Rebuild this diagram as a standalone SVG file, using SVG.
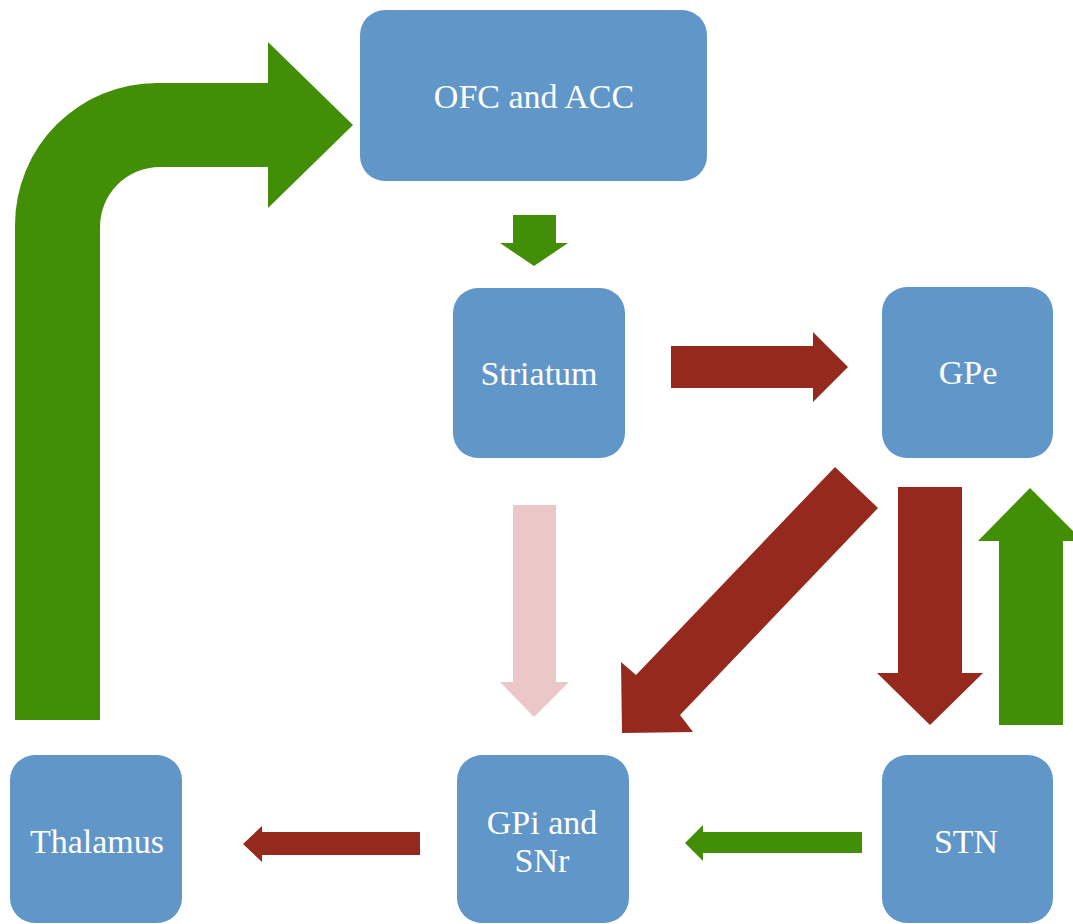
<svg xmlns="http://www.w3.org/2000/svg" width="1073" height="924" viewBox="0 0 1073 924">
<style>
.box{fill:#6196C9;}
.lbl{fill:#ffffff;font-family:'Liberation Serif',serif;font-size:34px;text-anchor:middle;}
.g{fill:#438E07;}
.r{fill:#95291D;}
.p{fill:#ECC7C7;}
</style>
<rect width="1073" height="924" fill="#ffffff"/>
<g id="connectors">
<path class="g" d="M 15 720 L 15 225 A 142 142 0 0 1 157 83 L 268 83 L 268 42 L 353 125 L 268 208 L 268 167 L 160 167 A 60 60 0 0 0 100 227 L 100 720 Z"/>
<polygon class="g" points="513,215 556,215 556,243 568,243 534,266 500,243 513,243"/>
<polygon class="r" points="671,346 813,346 813,332 848,367 813,402 813,388 671,388"/>
<polygon class="p" points="513,505 556,505 556,682 569,682 534,717 500,682 513,682"/>
<polygon class="r" points="835,467 878,508 680,715 693,732 622,733 621,662 636,675"/>
<polygon class="r" points="898,487 962,487 962,673 983,673 930,725 877,673 898,673"/>
<polygon class="g" points="999,725 1063,725 1063,541 1083,541 1030,488 978,541 999,541"/>
<polygon class="r" points="420,832 262,832 262,826 243,844 262,862 262,855 420,855"/>
<polygon class="g" points="862,832 703,832 703,825 685,843 703,861 703,853 862,853"/>
</g>
<g id="ofc">
<rect class="box" x="360" y="10" width="347" height="171" rx="25"/>
<text class="lbl" x="534" y="108">OFC and ACC</text>
</g>
<g id="striatum">
<rect class="box" x="453" y="288" width="172" height="170" rx="25"/>
<text class="lbl" x="539" y="385">Striatum</text>
</g>
<g id="gpe">
<rect class="box" x="882" y="287" width="171" height="171" rx="25"/>
<text class="lbl" x="968" y="384">GPe</text>
</g>
<g id="thalamus">
<rect class="box" x="10" y="755" width="172" height="168" rx="25"/>
<text class="lbl" x="97" y="853">Thalamus</text>
</g>
<g id="gpi">
<rect class="box" x="457" y="755" width="172" height="168" rx="25"/>
<text class="lbl" x="542" y="834">GPi and</text>
<text class="lbl" x="542" y="872">SNr</text>
</g>
<g id="stn">
<rect class="box" x="882" y="755" width="171" height="168" rx="25"/>
<text class="lbl" x="966" y="853">STN</text>
</g>
</svg>
